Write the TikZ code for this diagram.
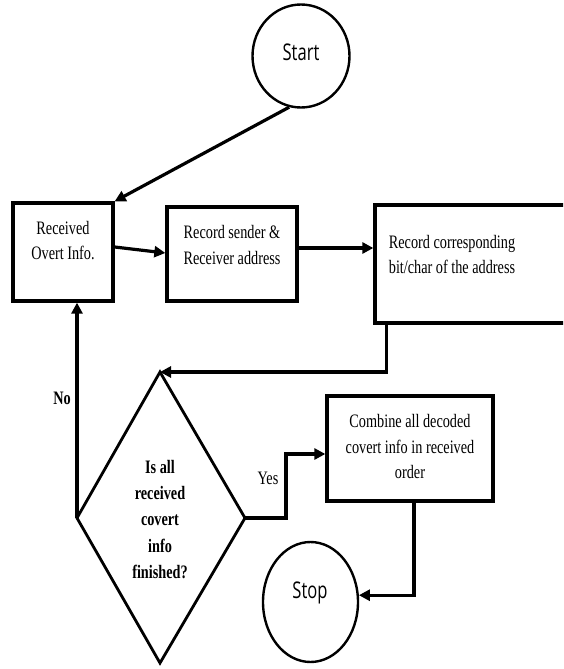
\documentclass[tikz,border=0pt]{standalone}
\usepackage{fontspec}
\setmainfont[FakeStretch=0.75]{Liberation Serif}
\newfontfamily\cirfont[FakeStretch=0.72]{Open Sans}
\usetikzlibrary{arrows.meta,shapes.geometric}
\begin{document}
\begin{tikzpicture}[x=1pt,y=-1pt,
  boxnode/.style={draw,line width=3.3pt,rectangle,inner sep=0pt},
  termnode/.style={draw,line width=2.4pt,ellipse,inner sep=0pt,font=\cirfont\fontsize{23}{26}\selectfont},
  txt/.style={align=center,inner sep=0pt,font=\fontsize{19}{25.5}\selectfont},
  btxt/.style={align=center,inner sep=0pt,font=\bfseries\fontsize{19}{26.2}\selectfont},
  arr/.style={line width=3.2pt,-{Triangle[length=11pt,width=11pt]}},
  dline/.style={line width=2.8pt,line join=miter}]
\useasboundingbox (0,0) rectangle (563,669);
\fill[white] (0,0) rectangle (563,669);
\clip (0,0) rectangle (563,669);
% terminals
\node[termnode,minimum width=97pt,minimum height=103pt] (start) at (301,56) {};
\node[inner sep=0pt,font=\cirfont\fontsize{23}{26}\selectfont] (startt) at (301,52) {Start};
\node[termnode,minimum width=95pt,minimum height=120pt] (stop) at (310.5,602) {};
\node[inner sep=0pt,font=\cirfont\fontsize{23}{26}\selectfont] (stopt) at (310,593) {Stop};
% boxes
\node[boxnode,minimum width=100pt,minimum height=98pt] (b1) at (63,252) {};
\node[txt] (b1t) at (63,240.5) {Received\\Overt Info.};
\node[boxnode,minimum width=130pt,minimum height=94pt] (b2) at (232,254) {};
\node[txt] (b2t) at (232,245) {Record sender \&\\Receiver address};
\node[boxnode,minimum width=200pt,minimum height=118pt] (b3) at (475,264) {};
\node[txt] (b3t) at (452,254.5) {Record corresponding\\bit/char of the address};
\node[boxnode,minimum width=166pt,minimum height=105pt] (b4) at (410,448.5) {};
\node[txt] (b4t) at (410,446.5) {Combine all decoded\\covert info in received\\order};
% decision diamond
\coordinate (dtop) at (160,372);
\coordinate (dleft) at (77,518);
\coordinate (dright) at (245,518);
\coordinate (dbot) at (160,663);
\draw[dline] (dtop) -- (dright) -- (dbot) -- (dleft) -- cycle;
\node[btxt] (dtext) at (160,519.5) {Is all\\received\\covert\\info\\finished?};
% connectors
\draw[arr] (start.257) -- (b1.north east);
\draw[arr] ([yshift=5pt]b1.east) -- ([yshift=1pt]b2.west);
\draw[arr] ([yshift=6pt]b2.east) -- ([yshift=6pt]b2.east -| b3.west);
\draw[arr] ([xshift=13pt]b3.south west) |- (dtop);
\draw[arr] (dleft) -- (dleft |- b1.south);
\draw[arr] (dright) -- ++(41,0) |- ([yshift=-5.5pt]b4.west);
\draw[arr] ([xshift=4pt]b4.south) |- (stop.8);
% labels
\node[inner sep=0pt,font=\bfseries\fontsize{19}{22}\selectfont] (nolab) at (62,398) {No};
\node[inner sep=0pt,font=\fontsize{19}{22}\selectfont] (yeslab) at (268,478) {Yes};
\end{tikzpicture}
\end{document}
